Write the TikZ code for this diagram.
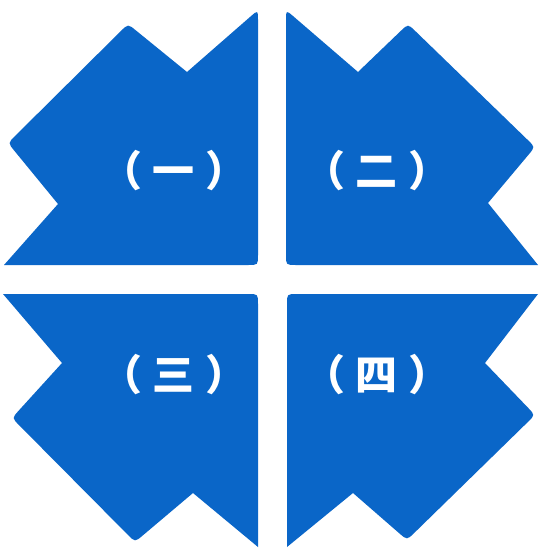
\documentclass[tikz,border=0pt]{standalone}
\usepackage{fontspec}
\newfontfamily\cjk{Noto Sans CJK SC}
\usetikzlibrary{calc}
\definecolor{qblue}{HTML}{0A66C8}
\tikzset{
  petal/.style={fill=qblue, draw=none},
  lbl/.style={text=white, font=\cjk\bfseries\fontsize{42}{46}\selectfont, inner sep=0pt, anchor=center}
}
\newcommand{\kk}{\kern11pt}
\begin{document}
\begin{tikzpicture}[x=1pt,y=-1pt]
\useasboundingbox[fill=white] (0,0) rectangle (539,549);
\def\rr{10pt}
% top-left
\coordinate (a1) at (258,10);
\coordinate (a2) at (258,265);
\coordinate (a3) at (4,265);
\coordinate (a4) at (58,204);
\coordinate (a5) at (8,143);
\coordinate (a6) at (128,24);
\coordinate (a7) at (187,72);
\fill[petal] (a3) -- (a4)
  -- ($(a5)!\rr!(a4)$) .. controls (a5) .. ($(a5)!\rr!(a6)$)
  -- ($(a6)!\rr!(a5)$) .. controls (a6) .. ($(a6)!\rr!(a7)$)
  -- (a7)
  -- ($(a1)!\rr!(a7)$) .. controls (a1) .. ($(a1)!\rr!(a2)$)
  -- ($(a2)!\rr!(a1)$) .. controls (a2) .. ($(a2)!\rr!(a3)$)
  -- cycle;
% top-right
\coordinate (b1) at (286,10);
\coordinate (b2) at (358,72);
\coordinate (b3) at (408,24);
\coordinate (b4) at (535,147);
\coordinate (b5) at (488,203);
\coordinate (b6) at (538,265);
\coordinate (b7) at (286,265);
\fill[petal] (b2)
  -- ($(b3)!\rr!(b2)$) .. controls (b3) .. ($(b3)!\rr!(b4)$)
  -- ($(b4)!\rr!(b3)$) .. controls (b4) .. ($(b4)!\rr!(b5)$)
  -- (b5) -- (b6)
  -- ($(b7)!\rr!(b6)$) .. controls (b7) .. ($(b7)!\rr!(b1)$)
  -- ($(b1)!\rr!(b7)$) .. controls (b1) .. ($(b1)!\rr!(b2)$)
  -- cycle;
% bottom-left
\coordinate (c1) at (3,294);
\coordinate (c2) at (258,294);
\coordinate (c3) at (258,547);
\coordinate (c4) at (193,493);
\coordinate (c5) at (135,542);
\coordinate (c6) at (12,418);
\coordinate (c7) at (62,363);
\fill[petal] (c1)
  -- ($(c2)!\rr!(c1)$) .. controls (c2) .. ($(c2)!\rr!(c3)$)
  -- (c3) -- (c4)
  -- ($(c5)!\rr!(c4)$) .. controls (c5) .. ($(c5)!\rr!(c6)$)
  -- ($(c6)!\rr!(c5)$) .. controls (c6) .. ($(c6)!\rr!(c7)$)
  -- (c7) -- cycle;
% bottom-right
\coordinate (d1) at (287,294);
\coordinate (d2) at (538,294);
\coordinate (d3) at (485,363);
\coordinate (d4) at (535,415);
\coordinate (d5) at (407,540);
\coordinate (d6) at (353,493);
\coordinate (d7) at (287,547);
\fill[petal] (d2) -- (d3)
  -- ($(d4)!\rr!(d3)$) .. controls (d4) .. ($(d4)!\rr!(d5)$)
  -- ($(d5)!\rr!(d4)$) .. controls (d5) .. ($(d5)!\rr!(d6)$)
  -- (d6) -- (d7)
  -- ($(d1)!\rr!(d7)$) .. controls (d1) .. ($(d1)!\rr!(d2)$)
  -- cycle;
% labels
\node[lbl] (l1) at (174,171) {（\kk 一\kk ）};
\node[lbl] (l2) at (377,171) {（\kk 二\kk ）};
\node[lbl] (l3) at (174,375) {（\kk 三\kk ）};
\node[lbl] (l4) at (377,375) {（\kk 四\kk ）};
\end{tikzpicture}
\end{document}
